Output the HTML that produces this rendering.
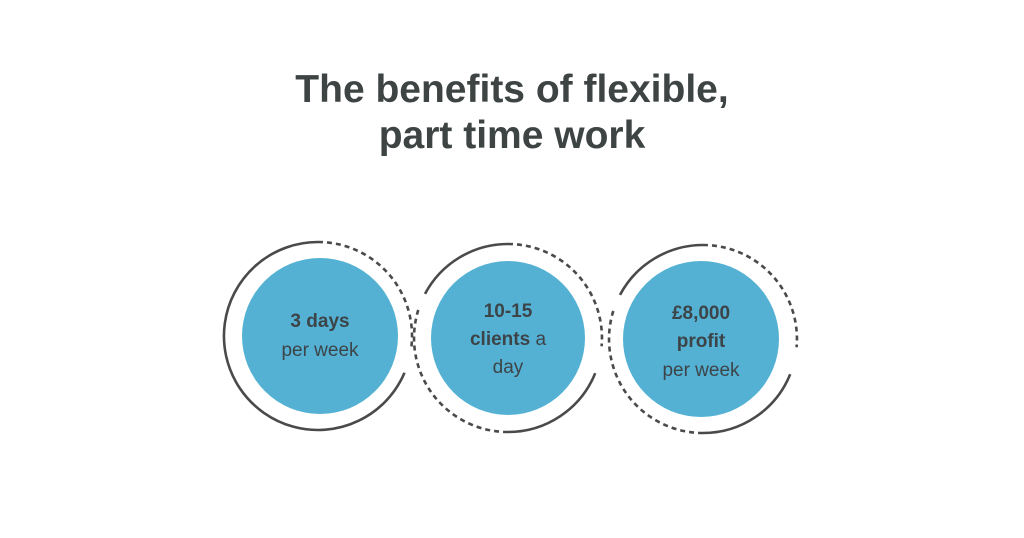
<!DOCTYPE html>
<html><head><meta charset="utf-8"><style>
html,body{margin:0;padding:0;background:#fff;}
svg{display:block;}
</style></head><body>
<svg width="1024" height="538" viewBox="0 0 1024 538" xmlns="http://www.w3.org/2000/svg">
<rect width="1024" height="538" fill="#fff"/>
<g font-family="Liberation Sans, sans-serif" fill="#3d4443" text-anchor="middle" font-weight="bold">
<text x="512" y="102" font-size="39">The benefits of flexible,</text>
<text x="512" y="148" font-size="39">part time work</text>
</g>
<g fill="#54b1d3">
<circle cx="320" cy="336" r="78"/>
<circle cx="508" cy="338" r="77"/>
<circle cx="701" cy="339" r="78"/>
</g>
<g fill="none" stroke="#4a4a4a" stroke-width="2.6">
<path d="M404.5,372.7 A94,94 0 1 1 318,242"/>
<path d="M318,242 A94,94 0 0 1 411.1,349.1" stroke-dasharray="5 4"/>
<path d="M425,293.9 A94,94 0 0 1 508,244"/>
<path d="M508,244 A94,94 0 0 1 601.6,346.2" stroke-dasharray="5 4"/>
<path d="M595.2,373.2 A94,94 0 0 1 508,432"/>
<path d="M508,432 A94,94 0 0 1 418.6,309" stroke-dasharray="5 4"/>
<path d="M620,294.9 A94,94 0 0 1 703,245"/>
<path d="M703,245 A94,94 0 0 1 796.6,347.2" stroke-dasharray="5 4"/>
<path d="M790.2,374.2 A94,94 0 0 1 703,433"/>
<path d="M703,433 A94,94 0 0 1 613.6,310" stroke-dasharray="5 4"/>
</g>
<g font-family="Liberation Sans, sans-serif" fill="#3c4448" text-anchor="middle" font-size="19">
<text x="320" y="327" font-weight="bold">3 days</text>
<text x="320" y="356">per week</text>
<text x="508" y="317" font-weight="bold">10-15</text>
<text x="508" y="345"><tspan font-weight="bold">clients</tspan> a</text>
<text x="508" y="373">day</text>
<text x="701" y="319" font-weight="bold">£8,000</text>
<text x="701" y="347" font-weight="bold">profit</text>
<text x="701" y="376">per week</text>
</g>
</svg>
</body></html>
